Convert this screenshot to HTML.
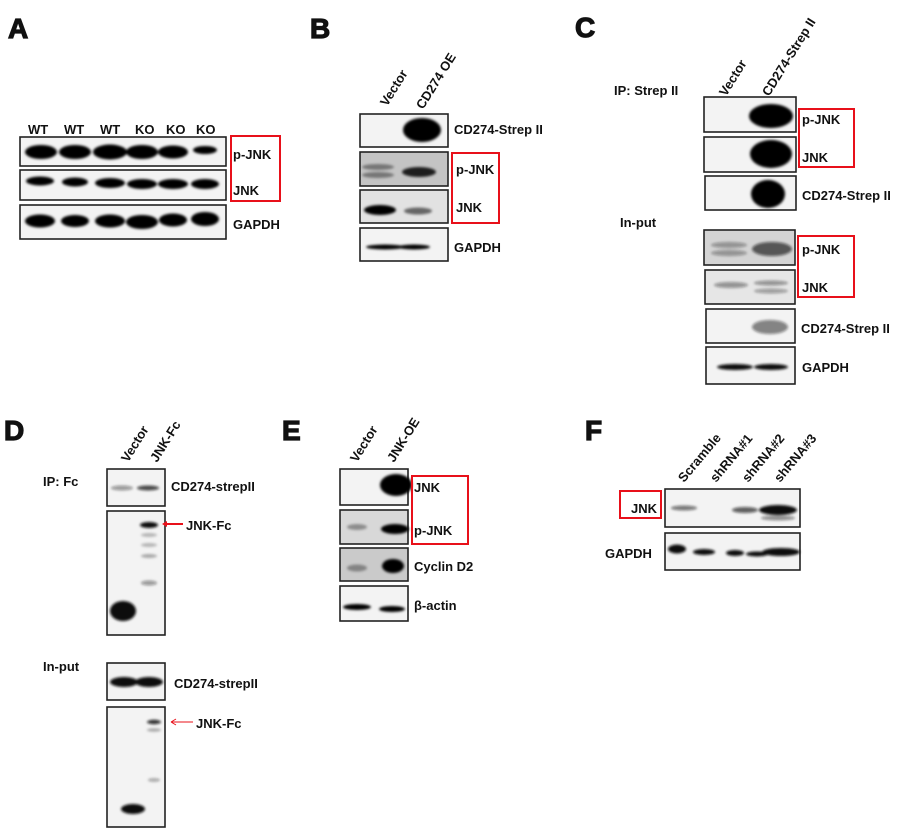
<!DOCTYPE html>
<html><head><meta charset="utf-8"><style>
html,body{margin:0;padding:0;background:#fff;}
svg{display:block}
text{font-family:"Liberation Sans",Arial,sans-serif;font-weight:bold;fill:#111;}
.L{font-size:28px;stroke:#111;stroke-width:1.2px;}
.t{font-size:13px;}
.box{fill:#f3f3f3;stroke:#222;stroke-width:1.6}
.red{fill:none;stroke:#e8101a;stroke-width:2}
</style></head><body>
<svg width="912" height="833" viewBox="0 0 912 833" xmlns="http://www.w3.org/2000/svg">
<defs>
<filter id="b" x="-50%" y="-100%" width="200%" height="300%"><feGaussianBlur stdDeviation="1.4"/></filter>
</defs>

<!-- A -->
<text class="L" x="8" y="38">A</text>
<g class="t"><text x="28" y="134">WT</text><text x="64" y="134">WT</text><text x="100" y="134">WT</text><text x="135" y="134">KO</text><text x="166" y="134">KO</text><text x="196" y="134">KO</text></g>
<rect class="box" x="20" y="137" width="206" height="29"/>
<rect class="box" x="20" y="170" width="206" height="30"/>
<rect class="box" x="20" y="205" width="206" height="34"/>
<g fill="#050505" filter="url(#b)">
<ellipse cx="41" cy="152" rx="16" ry="7"/><ellipse cx="75" cy="152" rx="16" ry="7"/><ellipse cx="110" cy="152" rx="17" ry="7.5"/><ellipse cx="142" cy="152" rx="16" ry="7"/><ellipse cx="173" cy="152" rx="15" ry="6.5"/><ellipse cx="205" cy="150" rx="12" ry="4"/>
<ellipse cx="40" cy="181" rx="14" ry="4.5"/><ellipse cx="75" cy="182" rx="13" ry="4.5"/><ellipse cx="110" cy="183" rx="15" ry="5"/><ellipse cx="142" cy="184" rx="15" ry="5"/><ellipse cx="173" cy="184" rx="15" ry="5"/><ellipse cx="205" cy="184" rx="14" ry="5"/>
<ellipse cx="40" cy="221" rx="15" ry="6.5"/><ellipse cx="75" cy="221" rx="14" ry="6"/><ellipse cx="110" cy="221" rx="15" ry="6.5"/><ellipse cx="142" cy="222" rx="16" ry="7"/><ellipse cx="173" cy="220" rx="14" ry="6.5"/><ellipse cx="205" cy="219" rx="14" ry="7"/>
</g>
<rect class="red" x="231" y="136" width="49" height="65"/>
<text class="t" x="233" y="159">p-JNK</text><text class="t" x="233" y="195">JNK</text><text class="t" x="233" y="229">GAPDH</text>

<!-- B -->
<text class="L" x="310" y="38">B</text>
<text class="t" transform="translate(387,107) rotate(-58)">Vector</text>
<text class="t" transform="translate(423,110) rotate(-58)">CD274 OE</text>
<rect class="box" x="360" y="114" width="88" height="33" fill="#fafafa"/>
<rect class="box" x="360" y="152" width="88" height="34" style="fill:#c4c4c4"/>
<rect class="box" x="360" y="190" width="88" height="33" style="fill:#e2e2e2"/>
<rect class="box" x="360" y="228" width="88" height="33"/>
<g fill="#050505" filter="url(#b)">
<ellipse cx="422" cy="130" rx="19" ry="12"/>
<ellipse cx="378" cy="167" rx="16" ry="3" opacity=".4"/><ellipse cx="378" cy="175" rx="16" ry="3" opacity=".4"/>
<ellipse cx="419" cy="172" rx="17" ry="5" opacity=".85"/>
<ellipse cx="380" cy="210" rx="16" ry="5"/><ellipse cx="418" cy="211" rx="14" ry="3.5" opacity=".55"/>
<ellipse cx="385" cy="247" rx="19" ry="2.5"/><ellipse cx="414" cy="247" rx="16" ry="2.5"/>
</g>
<rect class="red" x="452" y="153" width="47" height="70"/>
<text class="t" x="454" y="134">CD274-Strep II</text><text class="t" x="456" y="174">p-JNK</text><text class="t" x="456" y="212">JNK</text><text class="t" x="454" y="252">GAPDH</text>

<!-- C -->
<text class="L" x="575" y="37">C</text>
<text class="t" x="614" y="95">IP: Strep II</text>
<text class="t" transform="translate(726,97) rotate(-58)">Vector</text>
<text class="t" transform="translate(769,97) rotate(-58)">CD274-Strep II</text>
<rect class="box" x="704" y="97" width="92" height="35" fill="#fafafa"/>
<rect class="box" x="704" y="137" width="92" height="35"/>
<rect class="box" x="705" y="176" width="91" height="34"/>
<g fill="#020202" filter="url(#b)">
<ellipse cx="771" cy="116" rx="22" ry="12"/>
<ellipse cx="771" cy="154" rx="21" ry="14"/>
<ellipse cx="768" cy="194" rx="17" ry="14"/>
</g>
<rect class="red" x="799" y="109" width="55" height="58"/>
<text class="t" x="802" y="124">p-JNK</text><text class="t" x="802" y="162">JNK</text><text class="t" x="802" y="200">CD274-Strep II</text>
<text class="t" x="620" y="227">In-put</text>
<rect class="box" x="704" y="230" width="91" height="35" style="fill:#d4d4d4"/>
<rect class="box" x="705" y="270" width="90" height="34" style="fill:#e6e6e6"/>
<rect class="box" x="706" y="309" width="89" height="34"/>
<rect class="box" x="706" y="347" width="89" height="37"/>
<g fill="#111" filter="url(#b)">
<ellipse cx="729" cy="245" rx="18" ry="3" opacity=".35"/><ellipse cx="729" cy="253" rx="18" ry="3" opacity=".35"/>
<ellipse cx="772" cy="249" rx="20" ry="7" opacity=".65"/>
<ellipse cx="731" cy="285" rx="17" ry="3" opacity=".4"/><ellipse cx="771" cy="283" rx="17" ry="2.5" opacity=".4"/><ellipse cx="771" cy="291" rx="17" ry="2.5" opacity=".35"/>
<ellipse cx="770" cy="327" rx="18" ry="7" opacity=".5"/>
<ellipse cx="735" cy="367" rx="18" ry="3"/><ellipse cx="771" cy="367" rx="17" ry="3"/>
</g>
<rect class="red" x="798" y="236" width="56" height="61"/>
<text class="t" x="802" y="254">p-JNK</text><text class="t" x="802" y="292">JNK</text><text class="t" x="801" y="333">CD274-Strep II</text><text class="t" x="802" y="372">GAPDH</text>

<!-- D -->
<text class="L" x="4" y="440">D</text>
<text class="t" transform="translate(128,463) rotate(-58)">Vector</text>
<text class="t" transform="translate(157,463) rotate(-58)">JNK-Fc</text>
<text class="t" x="43" y="486">IP: Fc</text>
<rect class="box" x="107" y="469" width="58" height="37"/>
<rect class="box" x="107" y="511" width="58" height="124"/>
<rect class="box" x="107" y="663" width="58" height="37"/>
<rect class="box" x="107" y="707" width="58" height="120"/>
<g fill="#111" filter="url(#b)">
<ellipse cx="122" cy="488" rx="11" ry="2.5" opacity=".4"/><ellipse cx="148" cy="488" rx="11" ry="2.5" opacity=".75"/>
<ellipse cx="149" cy="525" rx="9" ry="3"/>
<ellipse cx="149" cy="535" rx="8" ry="2" opacity=".25"/><ellipse cx="149" cy="545" rx="8" ry="2" opacity=".25"/><ellipse cx="149" cy="556" rx="8" ry="2" opacity=".3"/><ellipse cx="149" cy="583" rx="8" ry="2.5" opacity=".4"/>
<ellipse cx="123" cy="611" rx="13" ry="10"/>
<ellipse cx="149" cy="682" rx="14" ry="5"/><ellipse cx="124" cy="682" rx="14" ry="5"/>
<ellipse cx="154" cy="722" rx="7" ry="2.2" opacity=".85"/><ellipse cx="154" cy="730" rx="7" ry="1.8" opacity=".3"/><ellipse cx="154" cy="780" rx="6" ry="1.8" opacity=".35"/>
<ellipse cx="133" cy="809" rx="12" ry="5"/>
</g>
<line x1="164" y1="524" x2="183" y2="524" stroke="#e8101a" stroke-width="2"/><path d="M162 524 l5 -3 v6z" fill="#e8101a"/>
<text class="t" x="186" y="530">JNK-Fc</text>
<text class="t" x="171" y="491">CD274-strepII</text>
<text class="t" x="43" y="671">In-put</text>
<line x1="172" y1="722" x2="193" y2="722" stroke="#e8101a" stroke-width="1"/><path d="M171 722 l5 -3 M171 722 l5 3" stroke="#e8101a" fill="none"/>
<text class="t" x="196" y="728">JNK-Fc</text>
<text class="t" x="174" y="688">CD274-strepII</text>

<!-- E -->
<text class="L" x="282" y="440">E</text>
<text class="t" transform="translate(357,463) rotate(-58)">Vector</text>
<text class="t" transform="translate(394,463) rotate(-58)">JNK-OE</text>
<rect class="box" x="340" y="469" width="68" height="36" fill="#fafafa"/>
<rect class="box" x="340" y="510" width="68" height="34" style="fill:#d8d8d8"/>
<rect class="box" x="340" y="548" width="68" height="33" style="fill:#cacaca"/>
<rect class="box" x="340" y="586" width="68" height="35"/>
<g fill="#050505" filter="url(#b)">
<ellipse cx="396" cy="485" rx="16" ry="11"/>
<ellipse cx="357" cy="527" rx="10" ry="3" opacity=".35"/><ellipse cx="395" cy="529" rx="14" ry="5"/>
<ellipse cx="357" cy="568" rx="10" ry="3.5" opacity=".35"/><ellipse cx="393" cy="566" rx="11" ry="7"/>
<ellipse cx="357" cy="607" rx="14" ry="3"/><ellipse cx="392" cy="609" rx="13" ry="3"/>
</g>
<rect class="red" x="412" y="476" width="56" height="68"/>
<text class="t" x="414" y="492">JNK</text><text class="t" x="414" y="535">p-JNK</text><text class="t" x="414" y="571">Cyclin D2</text><text class="t" x="414" y="610">β-actin</text>

<!-- F -->
<text class="L" x="585" y="440">F</text>
<text class="t" transform="translate(684,483) rotate(-50)">Scramble</text>
<text class="t" transform="translate(716,483) rotate(-50)">shRNA#1</text>
<text class="t" transform="translate(748,483) rotate(-50)">shRNA#2</text>
<text class="t" transform="translate(780,483) rotate(-50)">shRNA#3</text>
<rect class="box" x="665" y="489" width="135" height="38"/>
<rect class="box" x="665" y="533" width="135" height="37"/>
<g fill="#111" filter="url(#b)">
<ellipse cx="684" cy="508" rx="13" ry="2.5" opacity=".55"/><ellipse cx="745" cy="510" rx="13" ry="3" opacity=".65"/>
<ellipse cx="778" cy="510" rx="19" ry="5"/><ellipse cx="778" cy="518" rx="17" ry="2.5" opacity=".45"/>
<ellipse cx="677" cy="549" rx="9" ry="4.5"/><ellipse cx="704" cy="552" rx="11" ry="3"/><ellipse cx="735" cy="553" rx="9" ry="3"/><ellipse cx="757" cy="554" rx="11" ry="2.5"/><ellipse cx="781" cy="552" rx="19" ry="4"/>
</g>
<rect class="red" x="620" y="491" width="41" height="27"/>
<text class="t" x="631" y="513">JNK</text>
<text class="t" x="605" y="558">GAPDH</text>
</svg>
</body></html>
